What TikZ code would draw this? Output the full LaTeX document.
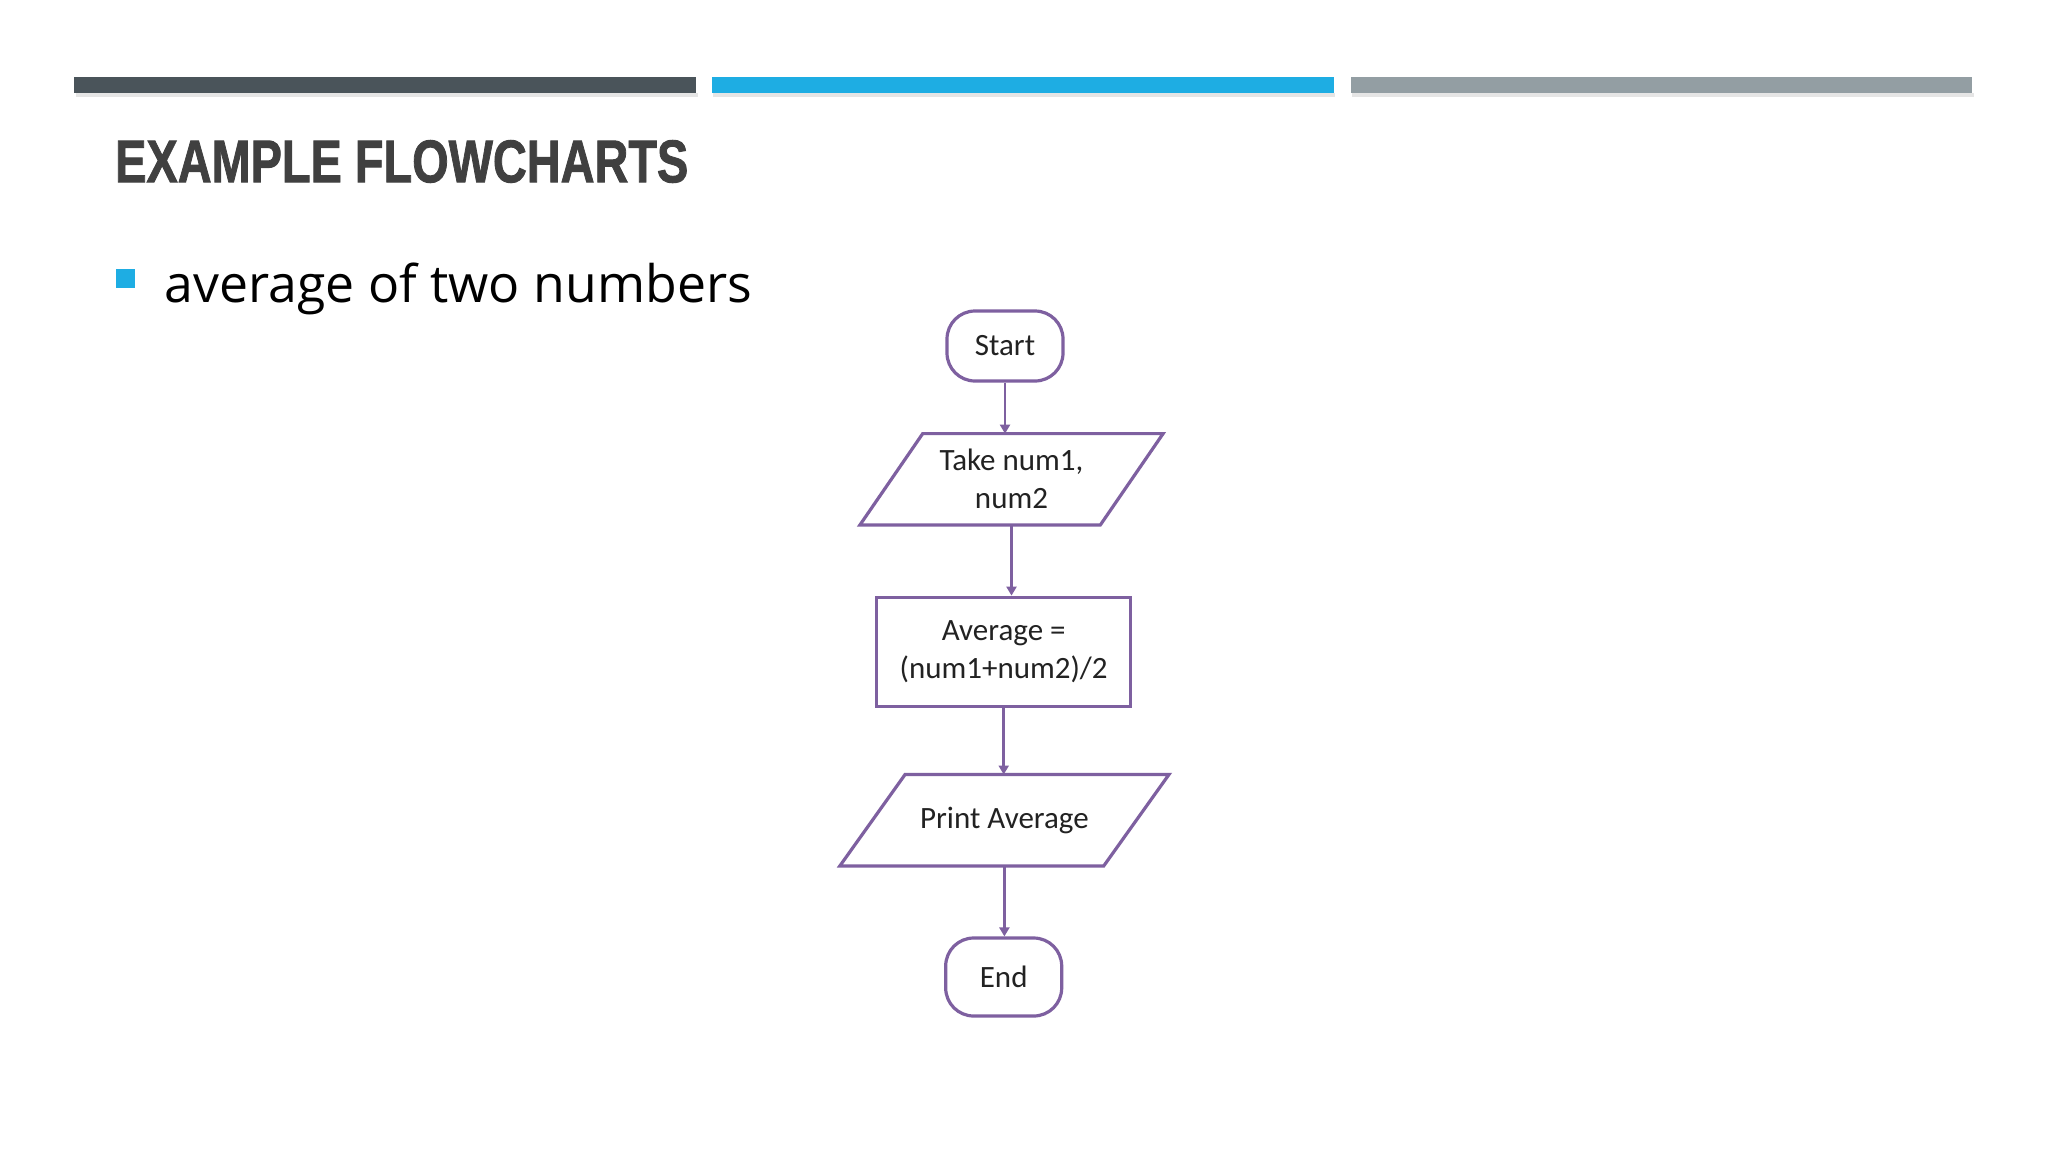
\documentclass[tikz,border=0pt]{standalone}
\usepackage{fontspec}
\setmainfont{Carlito}
\newfontfamily\titlefont[BoldFeatures={FakeBold=1.6}]{Liberation Sans}
\newfontfamily\bodyfont{Open Sans}
\usetikzlibrary{arrows.meta}
\definecolor{bardark}{HTML}{4A545A}
\definecolor{barblue}{HTML}{1EADE3}
\definecolor{bargray}{HTML}{939EA3}
\definecolor{titlegray}{HTML}{404040}
\definecolor{flowpurple}{HTML}{7E60A0}
\definecolor{flowtext}{HTML}{222222}
\begin{document}
\begin{tikzpicture}[x=1pt,y=-1pt,
  flow/.style={draw=flowpurple, line width=3.2pt, text=flowtext,
    font=\fontsize{31}{38}\selectfont, align=center, inner sep=0pt},
  terminal/.style={flow, rectangle, rounded corners=28pt,
    minimum width=116pt, minimum height=70pt},
  procbox/.style={flow, rectangle, minimum width=254pt, minimum height=109pt},
  iotext/.style={rectangle, text=flowtext, font=\fontsize{31}{38}\selectfont,
    align=center, inner sep=0pt, minimum height=91pt},
  ioline/.style={draw=flowpurple, line width=3.2pt, line join=miter},
  arr/.style={draw=flowpurple, line width=2.6pt,
    -{Triangle[length=9pt,width=10pt]}},
  barshadow/.style={fill=black, opacity=0.10}]
\useasboundingbox (0,0) rectangle (2048,1152);
\fill[white] (0,0) rectangle (2048,1152);
% top bars
\fill[barshadow] (76,93) rectangle (698,97);
\fill[barshadow] (713,93) rectangle (1335,97);
\fill[barshadow] (1352,93) rectangle (1974,97);
\fill[bardark] (74.4,77) rectangle (696.2,93);
\fill[barblue] (711.8,77) rectangle (1333.5,93);
\fill[bargray] (1350.5,77) rectangle (1972.3,93);
% title
\node[anchor=south west, inner sep=0pt, text=titlegray] (title) at (115,183)
  {\resizebox{573pt}{42pt}{\titlefont\bfseries EXAMPLE FLOWCHARTS}};
% bullet
\node[fill=barblue, minimum size=18.5pt, inner sep=0pt, anchor=north west] (bullet) at (116,269) {};
\node[anchor=base west, inner sep=0pt, text=black] (sub) at (164.6,302)
  {\resizebox{587pt}{!}{\bodyfont\fontsize{51}{60}\selectfont average of two numbers}};
% flowchart
\node[terminal] (start) at (1005,346) {Start};
\node[iotext, minimum width=240pt] (p1) at (1011.5,479.3) {Take num1,\\num2};
\draw[ioline] ([xshift=31.4pt]p1.north west) -- ([xshift=31.4pt]p1.north east)
  -- ([xshift=-31.4pt]p1.south east) -- ([xshift=-31.4pt]p1.south west) -- cycle;
\node[procbox] (avg) at (1003.7,651.7) {Average =\\(num1+num2)/2};
\node[iotext, minimum width=263.5pt] (p2) at (1004.4,820.2) {Print Average};
\draw[ioline] ([xshift=32.6pt]p2.north west) -- ([xshift=32.6pt]p2.north east)
  -- ([xshift=-32.6pt]p2.south east) -- ([xshift=-32.6pt]p2.south west) -- cycle;
\node[terminal, minimum height=78pt] (end) at (1003.7,977) {End};
\draw[arr] (start.south) -- (start.south |- p1.north);
\draw[arr] (p1.south) -- (p1.south |- avg.north);
\draw[arr] (avg.south) -- (avg.south |- p2.north);
\draw[arr] (p2.south) -- (p2.south |- end.north);
\end{tikzpicture}
\end{document}
